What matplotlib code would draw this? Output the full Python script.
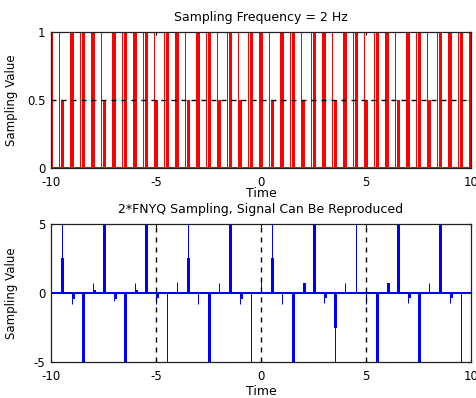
"""Muestreo de una señal: tren de pulsos a 2 Hz y muestreo a 2*FNYQ."""

import matplotlib.pyplot as plt
import numpy as np


# instantes de muestreo (cada 0.5 s entre -10 y 10)
t_muestras = np.linspace(-10, 10, 41)

# altura del trazo grueso de cada pulso en la gráfica superior
alto_pulso = [1, 0.5, 1, 1, 1, 0.5, 1, 1, 1, 1, 0.5,
              1, 1, 0.5, 1, 1, 0.5, 1, 0.5, 1, 1,
              0.5, 1, 1, 0.5, 1, 1, 0.5, 1, 1, 0.5,
              1, 1, 0.5, 1, 1, 0.5, 1, 1, 1, 1]

# valores muestreados de la señal (gráfica inferior)
valor_nyq = [0.8, 5, -0.8, -5, 0.7, 5, -0.6, -5, 0.7, 5, -0.8,
             -5, 0.8, 5, -0.8, -5, 0.7, 5, -0.8, -5, 0.8,
             5, -0.8, -5, 0.75, 5, -0.7, -5, 0.75, 5, -0.8,
             -5, 0.7, 5, -0.7, -5, 0.7, 5, -0.7, -5, 0.8]

# parte del trazo que se ve gruesa en cada muestra
grueso_nyq = [0, 2.5, -0.4, -5, 0.2, 5, -0.4, -5, 0.2, 5, -0.3,
              0, 0, 2.5, 0, -5, 0, 5, -0.4, 0, 0,
              2.5, 0, -5, 0.75, 5, -0.3, -2.5, 0, 0, 0,
              -5, 0.7, 5, -0.3, -5, 0, 5, -0.3, 0, 0]

lineas_ref = [-5, 0, 5]
ticks_x = [-10, -5, 0, 5, 10]

ROJO = '#ff0000'
AZUL = '#0000ff'
FINO = 0.72  # 1 px a 100 dpi

plt.rcParams['font.family'] = 'DejaVu Sans'
plt.rcParams['font.size'] = 9


def _ajustar_ejes(ax, titulo, ylim, yticks, yticklabels, y_xlabel):
    ax.set_xlim(-10, 10)
    ax.set_ylim(*ylim)
    ax.set_xticks(ticks_x)
    ax.set_xticklabels([str(v) for v in ticks_x])
    ax.set_yticks(yticks)
    ax.set_yticklabels(yticklabels)
    ax.tick_params(direction='in', length=2, width=0.8, labelsize=8.5,
                   top=True, right=True)
    ax.tick_params(axis='x', pad=6)
    ax.tick_params(axis='y', pad=4)
    for lado in ax.spines.values():
        lado.set_linewidth(0.9)
        lado.set_color('#202020')
        lado.set_zorder(5)
    ax.set_title(titulo, fontsize=9, pad=8)
    ax.set_xlabel('Time')
    ax.xaxis.set_label_coords(0.5, y_xlabel)
    ax.set_ylabel('Sampling Value', fontsize=8.5)
    ax.yaxis.set_label_coords(-0.078, 0.5)


fig = plt.figure(figsize=(4.77, 3.98), dpi=100)

# --- tren de pulsos: trazo fino completo y trazo grueso al lado ---
ax1 = fig.add_axes([0.107, 0.578, 0.8805, 0.3417])
ax1.vlines(t_muestras - 0.12, 0, 1, color=ROJO, linewidth=FINO, snap=True)
ax1.vlines(t_muestras, 0, alto_pulso, color=ROJO, linewidth=2.0,
           antialiased=False)
ax1.axhline(0, color=ROJO, linewidth=1.4, antialiased=False)
ax1.axhline(1, color=ROJO, linewidth=1.4, antialiased=False)
ax1.axhline(0.5, color='black', linewidth=1, dashes=(3.6, 3.6))
_ajustar_ejes(ax1, 'Sampling Frequency = 2 Hz', (0, 1),
              [0, 0.5, 1], ['0', '0.5', '1'], -0.14)

# --- muestreo a 2*FNYQ ---
ax2 = fig.add_axes([0.107, 0.0905, 0.8805, 0.347])
ax2.vlines(t_muestras, 0, valor_nyq, color=AZUL, linewidth=FINO, snap=True)
ax2.vlines(t_muestras + 0.03, 0, grueso_nyq, color=AZUL, linewidth=2.0,
           antialiased=False)
ax2.axhline(0, color=AZUL, linewidth=1.1, antialiased=False)
for x in lineas_ref:
    ax2.axvline(x, color='black', linewidth=1, dashes=(3.6, 3.6))
_ajustar_ejes(ax2, '2*FNYQ Sampling, Signal Can Be Reproduced', (-5, 5),
              [-5, 0, 5], ['-5', '0', '5'], -0.17)

fig.savefig('out.png', dpi=100)
